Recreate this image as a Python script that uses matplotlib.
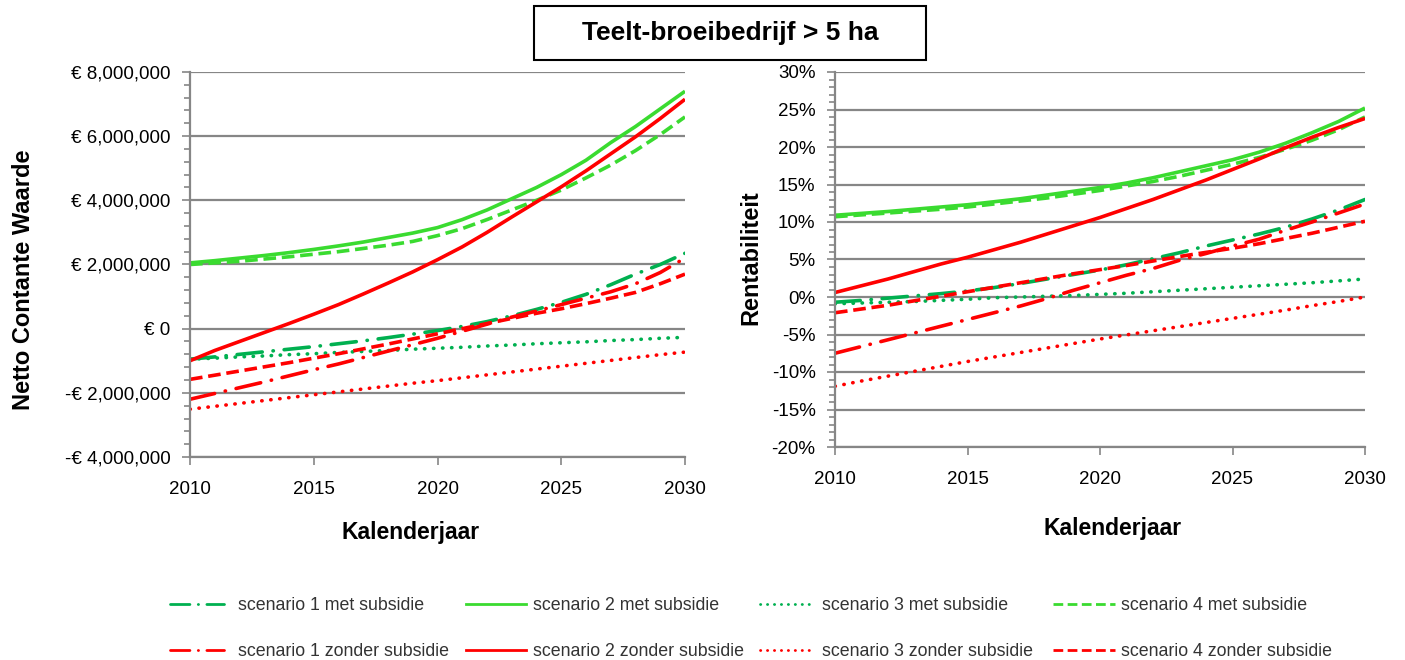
import matplotlib
matplotlib.use("Agg")
import matplotlib.pyplot as plt
from matplotlib.lines import Line2D
from matplotlib.patches import Rectangle
from matplotlib.ticker import FuncFormatter, MultipleLocator

plt.rcParams['font.family'] = ['Liberation Sans', 'DejaVu Sans']

jaren = list(range(2010, 2031))

# Netto Contante Waarde (miljoen euro)
ncw_s1_met = [-0.95, -0.88, -0.8, -0.72, -0.64, -0.56, -0.47, -0.38, -0.28, -0.17, -0.06,
              0.07, 0.22, 0.4, 0.6, 0.82, 1.07, 1.37, 1.7, 2.0, 2.35]
ncw_s2_met = [2.05, 2.12, 2.2, 2.28, 2.37, 2.47, 2.58, 2.7, 2.84, 2.98, 3.15,
              3.4, 3.7, 4.05, 4.4, 4.8, 5.25, 5.8, 6.3, 6.85, 7.4]
ncw_s3_met = [-0.95, -0.92, -0.88, -0.85, -0.81, -0.78, -0.74, -0.71, -0.68, -0.64, -0.61,
              -0.58, -0.54, -0.51, -0.47, -0.44, -0.41, -0.37, -0.34, -0.3, -0.27]
ncw_s4_met = [2.0, 2.05, 2.1, 2.17, 2.24, 2.32, 2.4, 2.5, 2.6, 2.72, 2.9,
              3.12, 3.4, 3.7, 4.0, 4.32, 4.7, 5.1, 5.55, 6.05, 6.6]
ncw_s1_zonder = [-2.2, -2.02, -1.84, -1.66, -1.47, -1.28, -1.1, -0.9, -0.7, -0.5, -0.3,
                 -0.08, 0.14, 0.36, 0.55, 0.75, 0.95, 1.15, 1.4, 1.75, 2.2]
ncw_s2_zonder = [-1.0, -0.68, -0.4, -0.12, 0.16, 0.45, 0.75, 1.08, 1.42, 1.77, 2.15,
                 2.55, 3.0, 3.48, 3.95, 4.42, 4.92, 5.45, 5.98, 6.55, 7.15]
ncw_s3_zonder = [-2.51, -2.42, -2.33, -2.24, -2.15, -2.06, -1.97, -1.88, -1.79, -1.7, -1.62,
                 -1.53, -1.44, -1.35, -1.26, -1.17, -1.08, -0.99, -0.9, -0.81, -0.73]
ncw_s4_zonder = [-1.58, -1.45, -1.32, -1.19, -1.06, -0.92, -0.78, -0.63, -0.48, -0.32, -0.16,
                 0.0, 0.16, 0.32, 0.48, 0.62, 0.78, 0.95, 1.13, 1.4, 1.7]

# Rentabiliteit (%)
rent_s1_met = [-0.7, -0.45, -0.15, 0.15, 0.45, 0.8, 1.25, 1.8, 2.4, 3.0, 3.6,
               4.3, 5.1, 5.9, 6.8, 7.6, 8.4, 9.3, 10.4, 11.6, 13.0]
rent_s2_met = [10.9, 11.15, 11.4, 11.7, 12.0, 12.3, 12.7, 13.1, 13.6, 14.1, 14.6,
               15.2, 15.9, 16.7, 17.5, 18.3, 19.3, 20.5, 21.9, 23.4, 25.2]
rent_s3_met = [-0.9, -0.8, -0.7, -0.6, -0.45, -0.3, -0.1, 0.0, 0.1, 0.2, 0.35,
               0.5, 0.7, 0.9, 1.1, 1.3, 1.5, 1.7, 1.9, 2.15, 2.4]
rent_s4_met = [10.7, 10.95, 11.2, 11.45, 11.7, 12.0, 12.4, 12.8, 13.2, 13.7, 14.2,
               14.8, 15.4, 16.1, 16.9, 17.7, 18.6, 19.7, 20.9, 22.3, 24.0]
rent_s1_zonder = [-7.5, -6.6, -5.7, -4.8, -3.9, -3.0, -2.1, -1.2, -0.2, 0.9, 1.9,
                  2.9, 3.8, 4.9, 5.8, 6.8, 7.7, 8.9, 10.0, 11.2, 12.4]
rent_s2_zonder = [0.6, 1.5, 2.4, 3.4, 4.4, 5.3, 6.3, 7.3, 8.4, 9.5, 10.6,
                  11.8, 13.0, 14.3, 15.6, 17.0, 18.4, 19.9, 21.3, 22.6, 23.8]
rent_s3_zonder = [-11.9, -11.2, -10.55, -9.9, -9.25, -8.6, -8.0, -7.4, -6.8, -6.2, -5.6,
                  -5.05, -4.5, -3.95, -3.4, -2.85, -2.3, -1.75, -1.15, -0.6, 0.0]
rent_s4_zonder = [-2.1, -1.6, -1.1, -0.5, 0.1, 0.7, 1.3, 1.9, 2.5, 3.1, 3.65,
                  4.2, 4.8, 5.4, 5.95, 6.5, 7.1, 7.8, 8.5, 9.3, 10.1]

labels = ['scenario 1 met subsidie', 'scenario 2 met subsidie',
          'scenario 3 met subsidie', 'scenario 4 met subsidie',
          'scenario 1 zonder subsidie', 'scenario 2 zonder subsidie',
          'scenario 3 zonder subsidie', 'scenario 4 zonder subsidie']

groen_donker = '#00B050'
groen_licht = '#3ADB30'
rood = '#FF0000'
grijs = '#868686'

lw = 2.6
stijl_s1 = (0, (7, 3, 0.1, 3))
stijl_s4 = (0, (3.5, 1.6))
stijl_s3 = (0, (0.1, 2.4))

# kleur en stijl per reeks, zelfde volgorde als labels
opmaak = [(groen_donker, stijl_s1), (groen_licht, '-'), (groen_donker, stijl_s3), (groen_licht, stijl_s4),
          (rood, stijl_s1), (rood, '-'), (rood, stijl_s3), (rood, stijl_s4)]

ncw = [ncw_s1_met, ncw_s2_met, ncw_s3_met, ncw_s4_met,
       ncw_s1_zonder, ncw_s2_zonder, ncw_s3_zonder, ncw_s4_zonder]
rent = [rent_s1_met, rent_s2_met, rent_s3_met, rent_s4_met,
        rent_s1_zonder, rent_s2_zonder, rent_s3_zonder, rent_s4_zonder]

fig = plt.figure(figsize=(14.05, 6.6), dpi=100)
ax1 = fig.add_axes([190 / 1405, 1 - 457 / 660, 495 / 1405, 385 / 660])
ax2 = fig.add_axes([835 / 1405, 1 - 447 / 660, 530 / 1405, 375 / 660])

# tekenvolgorde: achterste eerst
volgorde = [2, 6, 0, 4, 7, 3, 5, 1]
for ax, data, schaal in [(ax1, ncw, 1e6), (ax2, rent, 0.01)]:
    for i in volgorde:
        kleur, stijl = opmaak[i]
        cap = 'butt' if stijl in ('-', stijl_s4) else 'round'
        ax.plot(jaren, [v * schaal for v in data[i]], color=kleur, linestyle=stijl,
                linewidth=lw, dash_capstyle=cap, solid_capstyle='butt')


def opmaak_as(ax):
    ax.set_xlim(2010, 2030)
    ax.xaxis.set_major_locator(MultipleLocator(5))
    ax.grid(axis='y', color=grijs, linewidth=1.6)
    ax.set_axisbelow(True)
    for kant in ['top', 'right']:
        ax.spines[kant].set_visible(False)
    for kant in ['left', 'bottom']:
        ax.spines[kant].set_color(grijs)
        ax.spines[kant].set_linewidth(1.6)
    ax.tick_params(axis='both', which='both', color=grijs, width=1.2, direction='out')
    ax.tick_params(axis='both', which='major', length=6, labelsize=13.5)
    ax.tick_params(axis='y', which='minor', length=4)
    ax.tick_params(axis='x', which='major', pad=11)
    ax.tick_params(axis='y', which='major', pad=8)


opmaak_as(ax1)
ax1.set_ylim(-4e6, 8e6)
ax1.yaxis.set_major_locator(MultipleLocator(2e6))
ax1.yaxis.set_minor_locator(MultipleLocator(4e5))


def euro(v, pos):
    if abs(v) < 1:
        return '€ 0'
    teken = '-' if v < 0 else ''
    return f'{teken}€ {abs(v):,.0f}'


ax1.yaxis.set_major_formatter(FuncFormatter(euro))
ax1.set_ylabel('Netto Contante Waarde', fontsize=17, fontweight='bold')
ax1.yaxis.set_label_coords(-166 / 495, (457 - 280) / 385)
ax1.set_xlabel('Kalenderjaar', fontsize=16.5, fontweight='bold')
ax1.xaxis.set_label_coords((411 - 190) / 495, -(532 - 457) / 385)

opmaak_as(ax2)
ax2.set_ylim(-0.2, 0.3)
ax2.yaxis.set_major_locator(MultipleLocator(0.05))
ax2.yaxis.set_minor_locator(MultipleLocator(0.01))
ax2.yaxis.set_major_formatter(FuncFormatter(lambda v, p: f'{v * 100:.0f}%'))
ax2.set_ylabel('Rentabiliteit', fontsize=17, fontweight='bold')
ax2.yaxis.set_label_coords(-(835 - 751) / 530, (447 - 258) / 375)
ax2.set_xlabel('Kalenderjaar', fontsize=16.5, fontweight='bold')
ax2.xaxis.set_label_coords((1113 - 835) / 530, -(528 - 447) / 375)
for ax in (ax1, ax2):
    ax.xaxis.label.set_va('center')
    ax.yaxis.label.set_va('center')

# titelkader
fig.patches.append(Rectangle((534 / 1405, 1 - 60 / 660), 392 / 1405, 54 / 660,
                             transform=fig.transFigure, fill=False, edgecolor='black', linewidth=1.5))
fig.text(730 / 1405, 1 - 33 / 660, 'Teelt-broeibedrijf > 5 ha', ha='center', va='center',
         fontsize=19, fontweight='bold')

# legenda in vier kolommen, elk met een eigen plek
kolom_x = [170, 466, 760, 1053]
handle_len = [3.05, 3.35, 3.1, 3.5]
tekst_pad = [0.8, 0.4, 0.4, 0.3]
for k in range(4):
    handles = []
    for i in (k, k + 4):
        kleur, stijl = opmaak[i]
        cap = 'butt' if stijl in ('-', stijl_s4) else 'round'
        handles.append(Line2D([], [], color=kleur, linestyle=stijl, linewidth=2.0,
                              dash_capstyle=cap))
    fig.legend(handles, [labels[k], labels[k + 4]],
               loc='upper left', bbox_to_anchor=(kolom_x[k] / 1405, 1 - 597 / 660),
               frameon=False, fontsize=12.8, handlelength=handle_len[k], handletextpad=tekst_pad[k],
               labelspacing=1.62, borderaxespad=0, borderpad=0, labelcolor='#333333')

fig.savefig('out.png', dpi=100)
